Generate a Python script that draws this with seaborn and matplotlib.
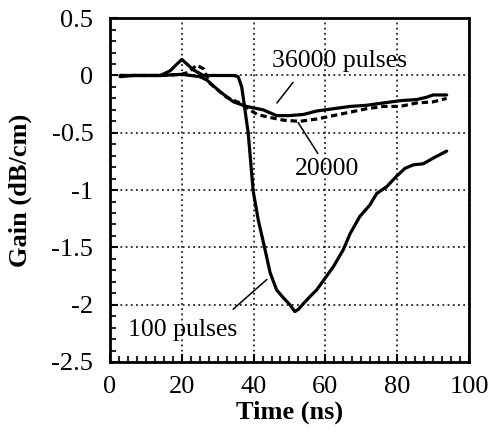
import numpy as np
import pandas as pd
import matplotlib
matplotlib.use("Agg")
import matplotlib.pyplot as plt
import seaborn as sns
from matplotlib.ticker import MultipleLocator

# --- data ---
t_100 = [2.8, 6.5, 10, 14, 16.7, 20, 23.2, 26, 30, 34.4, 35.7, 36.7, 37.6, 38.5, 39.9, 41.3, 43.2, 44.6,
         46.4, 48.3, 50.1, 51.5, 52.5, 53.9, 55.7, 57.6, 59.9, 62.2, 65, 66.9, 69.6, 72.4, 74.3,
         77.1, 79.8, 82.2, 84.5, 87.3, 90.1, 93.8]
g_100 = [-0.01, 0.0, 0.0, 0.0, 0.04, 0.14, 0.05, 0.0, 0.0, 0.0, -0.01, -0.1, -0.3, -0.5, -1.01, -1.26, -1.52, -1.72,
         -1.87, -1.94, -2.0, -2.06, -2.04, -1.99, -1.93, -1.87, -1.77, -1.67, -1.52, -1.38, -1.23, -1.13, -1.03,
         -0.97, -0.88, -0.81, -0.78, -0.77, -0.72, -0.66]

t_36000 = [2.8, 8, 14, 20, 25, 27, 30.6, 34.4, 38, 42.7, 46.4, 50.1, 53.9, 57.6, 62.2, 66.9, 71.5, 76.1,
           80.8, 85.4, 88.2, 90, 93.8]
g_36000 = [0.0, 0.0, 0.0, 0.01, -0.01, -0.04, -0.14, -0.23, -0.27, -0.3, -0.35, -0.35, -0.34, -0.31, -0.29,
           -0.27, -0.26, -0.24, -0.22, -0.21, -0.19, -0.17, -0.17]

t_20000 = [2.8, 8, 14, 20, 22, 24.1, 26, 27.9, 32.5, 36.2, 38.5, 41, 43.6, 48.3, 52.9, 57.6, 62.2, 66.9, 71.5,
           76.1, 80.8, 85.4, 90, 93.8]
g_20000 = [0.0, 0.0, 0.0, 0.01, 0.03, 0.09, 0.06, -0.07, -0.19, -0.24, -0.29, -0.34, -0.36, -0.39, -0.40, -0.38,
           -0.35, -0.32, -0.29, -0.27, -0.27, -0.24, -0.23, -0.20]

x_ticks = [0, 20, 40, 60, 80, 100]
y_ticks = [0.5, 0, -0.5, -1, -1.5, -2, -2.5]
y_tick_labels = ["0.5", "0", "-0.5", "-1", "-1.5", "-2", "-2.5"]

df = pd.concat([
    pd.DataFrame({"Time": t_100, "Gain": g_100, "series": "100 pulses"}),
    pd.DataFrame({"Time": t_36000, "Gain": g_36000, "series": "36000 pulses"}),
    pd.DataFrame({"Time": t_20000, "Gain": g_20000, "series": "20000"}),
])

sns.set_theme(style="white")
plt.rcParams["font.family"] = ["Liberation Serif", "DejaVu Serif"]

fig = plt.figure(figsize=(4.9, 4.33), dpi=100)
ax = fig.add_axes([0.2245, 0.164, 0.7325, 0.794])

sns.lineplot(data=df, x="Time", y="Gain", hue="series", style="series",
             palette={"100 pulses": "black", "36000 pulses": "black", "20000": "black"},
             dashes={"100 pulses": "", "36000 pulses": "", "20000": (2, 1.2)},
             linewidth=2.3, sort=False, estimator=None, legend=False, ax=ax)

ax.set_xlim(0, 100)
ax.set_ylim(-2.5, 0.5)
ax.set_xticks(x_ticks)
ax.set_yticks(y_ticks)
ax.set_yticklabels(y_tick_labels)
ax.xaxis.set_minor_locator(MultipleLocator(2.5))
ax.yaxis.set_minor_locator(MultipleLocator(0.1))
ax.tick_params(axis="both", which="major", direction="in", length=6, width=1.5,
               labelsize=19, colors="black")
ax.tick_params(axis="y", which="major", pad=12)
ax.tick_params(axis="x", which="major", pad=10)
ax.tick_params(axis="both", which="minor", direction="in", length=4, width=1.5)
ax.tick_params(bottom=True, left=True, top=False, right=False, which="both")
ax.grid(True, which="major", color="black", linestyle=(0, (1.2, 2.2)), linewidth=1.1)
for s in ax.spines.values():
    s.set_color("black")
    s.set_linewidth(2)

ax.set_xlabel("Time (ns)", fontsize=19, fontweight="bold", color="black", labelpad=2)
ax.set_ylabel("Gain (dB/cm)", fontsize=19, fontweight="bold", color="black", labelpad=14)

txt_kw = dict(fontsize=18.5, color="black")
ax.text(64, 0.13, "36000 pulses", ha="center", va="center", **txt_kw)
ax.plot([51, 46.5], [-0.06, -0.24], color="black", lw=1.1)
ax.text(60.5, -0.82, "20000", ha="center", va="center", **txt_kw)
ax.plot([52.4, 57.9], [-0.41, -0.68], color="black", lw=1.1)
ax.text(20.3, -2.22, "100 pulses", ha="center", va="center", **txt_kw)
ax.plot([34.3, 43.7], [-2.04, -1.78], color="black", lw=1.1)

fig.savefig("out.png", dpi=100)
